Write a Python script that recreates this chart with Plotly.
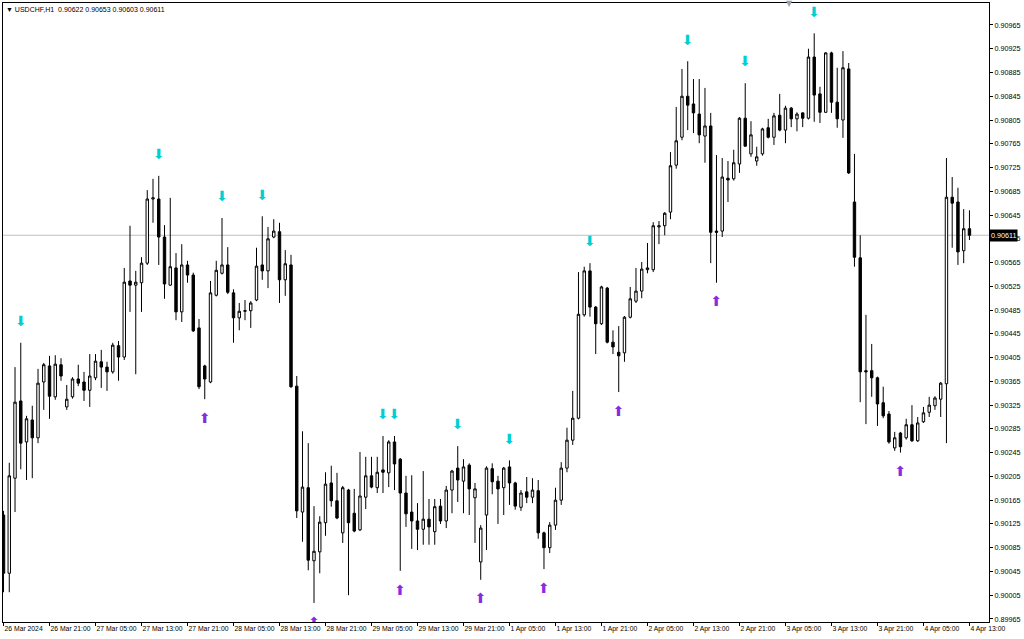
import plotly.graph_objects as go

symbol = "USDCHF,H1"

opens = [0.90140,0.90042,0.90202,0.90332,0.90263,0.90300,0.90270,0.90364,0.90391,0.90339,
0.90393,0.90322,0.90339,0.90369,0.90364,0.90350,0.90371,0.90398,0.90389,0.90381,
0.90425,0.90406,0.90534,0.90527,0.90531,0.90564,0.90672,0.90672,0.90608,0.90527,
0.90556,0.90482,0.90561,0.90544,0.90455,0.90391,0.90364,0.90510,0.90547,0.90561,
0.90514,0.90472,0.90483,0.90484,0.90502,0.90561,0.90551,0.90608,0.90617,0.90536,
0.90561,0.90357,0.90145,0.90186,0.90063,0.90078,0.90127,0.90194,0.90164,0.90110,
0.90182,0.90143,0.90115,0.90170,0.90206,0.90186,0.90216,0.90211,0.90263,0.90234,
0.90177,0.90145,0.90130,0.90116,0.90133,0.90112,0.90155,0.90130,0.90182,0.90219,
0.90197,0.90224,0.90169,0.90061,0.90140,0.90218,0.90197,0.90186,0.90221,0.90194,
0.90153,0.90179,0.90170,0.90181,0.90110,0.90085,0.90123,0.90165,0.90219,0.90266,
0.90303,0.90477,0.90551,0.90490,0.90462,0.90522,0.90431,0.90414,0.90413,0.90473,
0.90500,0.90517,0.90553,0.90553,0.90625,0.90627,0.90650,0.90729,0.90776,0.90845,
0.90832,0.90815,0.90778,0.90795,0.90618,0.90618,0.90707,0.90706,0.90731,0.90808,
0.90748,0.90736,0.90748,0.90792,0.90776,0.90813,0.90788,0.90825,0.90807,0.90817,
0.90808,0.90911,0.90849,0.90818,0.90918,0.90835,0.90805,0.90891,0.90667,0.90573,
0.90383,0.90383,0.90371,0.90329,0.90310,0.90253,0.90278,0.90270,0.90292,0.90265,
0.90297,0.90313,0.90324,0.90335,0.90361,0.90675,0.90667,0.90585,0.90622]

highs = [0.90147,0.90228,0.90389,0.90430,0.90307,0.90324,0.90386,0.90396,0.90408,0.90409,
0.90404,0.90359,0.90372,0.90393,0.90381,0.90411,0.90411,0.90418,0.90398,0.90430,
0.90433,0.90556,0.90627,0.90551,0.90574,0.90687,0.90706,0.90711,0.90628,0.90674,
0.90581,0.90596,0.90568,0.90548,0.90470,0.90393,0.90534,0.90568,0.90640,0.90591,
0.90520,0.90497,0.90502,0.90500,0.90590,0.90643,0.90625,0.90638,0.90632,0.90586,
0.90578,0.90374,0.90281,0.90261,0.90155,0.90138,0.90212,0.90223,0.90211,0.90189,
0.90184,0.90184,0.90246,0.90238,0.90238,0.90238,0.90273,0.90266,0.90273,0.90236,
0.90206,0.90207,0.90160,0.90214,0.90167,0.90167,0.90167,0.90189,0.90216,0.90256,
0.90234,0.90227,0.90194,0.90123,0.90222,0.90227,0.90206,0.90221,0.90232,0.90196,
0.90182,0.90204,0.90202,0.90199,0.90112,0.90128,0.90186,0.90229,0.90287,0.90349,
0.90549,0.90558,0.90564,0.90492,0.90526,0.90524,0.90451,0.90458,0.90475,0.90524,
0.90556,0.90566,0.90598,0.90633,0.90635,0.90650,0.90751,0.90827,0.90891,0.90904,
0.90874,0.90874,0.90859,0.90817,0.90746,0.90741,0.90736,0.90755,0.90810,0.90867,
0.90803,0.90760,0.90792,0.90807,0.90817,0.90849,0.90829,0.90827,0.90818,0.90818,
0.90925,0.90951,0.90861,0.90919,0.90920,0.90893,0.90921,0.90901,0.90748,0.90611,
0.90477,0.90428,0.90373,0.90356,0.90315,0.90280,0.90280,0.90302,0.90325,0.90305,
0.90322,0.90339,0.90340,0.90364,0.90741,0.90709,0.90691,0.90655,0.90653]

lows = [0.90010,0.90010,0.90145,0.90217,0.90199,0.90202,0.90261,0.90317,0.90302,0.90334,
0.90366,0.90317,0.90336,0.90357,0.90332,0.90322,0.90367,0.90354,0.90349,0.90378,
0.90366,0.90401,0.90482,0.90377,0.90482,0.90561,0.90632,0.90561,0.90504,0.90526,
0.90468,0.90465,0.90531,0.90448,0.90352,0.90335,0.90362,0.90508,0.90545,0.90512,
0.90430,0.90451,0.90468,0.90455,0.90500,0.90536,0.90522,0.90606,0.90497,0.90509,
0.90354,0.90135,0.90095,0.90047,0.89992,0.90042,0.90105,0.90154,0.90133,0.90093,
0.90005,0.90111,0.90113,0.90150,0.90185,0.90177,0.90177,0.90187,0.90182,0.90046,
0.90120,0.90083,0.90081,0.90090,0.90090,0.90090,0.90125,0.90118,0.90143,0.90162,
0.90143,0.90140,0.90093,0.90031,0.90081,0.90175,0.90125,0.90140,0.90157,0.90149,
0.90147,0.90160,0.90160,0.90100,0.90049,0.90076,0.90115,0.90157,0.90212,0.90258,
0.90301,0.90474,0.90474,0.90411,0.90460,0.90429,0.90411,0.90347,0.90398,0.90471,
0.90497,0.90505,0.90547,0.90549,0.90596,0.90611,0.90638,0.90723,0.90771,0.90788,
0.90783,0.90766,0.90733,0.90564,0.90531,0.90608,0.90667,0.90703,0.90716,0.90760,
0.90743,0.90728,0.90745,0.90774,0.90763,0.90786,0.90766,0.90793,0.90786,0.90793,
0.90806,0.90802,0.90800,0.90817,0.90817,0.90792,0.90775,0.90714,0.90558,0.90330,
0.90293,0.90339,0.90290,0.90303,0.90260,0.90248,0.90245,0.90267,0.90263,0.90263,
0.90295,0.90305,0.90317,0.90305,0.90261,0.90590,0.90561,0.90564,0.90603]

closes = [0.90042,0.90206,0.90330,0.90261,0.90302,0.90270,0.90362,0.90393,0.90340,0.90394,
0.90374,0.90335,0.90369,0.90362,0.90350,0.90374,0.90399,0.90389,0.90381,0.90426,
0.90406,0.90532,0.90527,0.90532,0.90564,0.90672,0.90674,0.90608,0.90529,0.90558,
0.90482,0.90561,0.90544,0.90450,0.90356,0.90369,0.90514,0.90552,0.90561,0.90515,
0.90472,0.90483,0.90484,0.90497,0.90559,0.90551,0.90605,0.90618,0.90536,0.90563,
0.90356,0.90147,0.90187,0.90064,0.90079,0.90128,0.90192,0.90164,0.90135,0.90186,
0.90127,0.90113,0.90172,0.90206,0.90187,0.90212,0.90212,0.90263,0.90226,0.90177,
0.90142,0.90130,0.90116,0.90133,0.90120,0.90154,0.90130,0.90182,0.90214,0.90199,
0.90221,0.90184,0.90184,0.90118,0.90219,0.90196,0.90184,0.90219,0.90194,0.90155,
0.90177,0.90170,0.90182,0.90110,0.90085,0.90123,0.90165,0.90219,0.90266,0.90303,
0.90478,0.90551,0.90490,0.90462,0.90524,0.90431,0.90423,0.90408,0.90473,0.90504,
0.90517,0.90554,0.90556,0.90627,0.90627,0.90648,0.90728,0.90770,0.90845,0.90830,
0.90817,0.90780,0.90795,0.90616,0.90616,0.90709,0.90704,0.90733,0.90808,0.90761,
0.90780,0.90743,0.90790,0.90776,0.90812,0.90788,0.90825,0.90807,0.90815,0.90808,
0.90911,0.90847,0.90818,0.90918,0.90835,0.90807,0.90893,0.90716,0.90574,0.90381,
0.90381,0.90371,0.90327,0.90307,0.90263,0.90270,0.90255,0.90292,0.90265,0.90295,
0.90312,0.90325,0.90337,0.90362,0.90675,0.90665,0.90583,0.90622,0.90611]

# fractal signal bars
sell_signals = [3, 27, 38, 45, 66, 68, 79, 88, 102, 119, 129, 141]
buy_signals = [35, 54, 69, 83, 94, 107, 124, 156]

time_labels = ["26 Mar 2024", "26 Mar 21:00", "27 Mar 05:00", "27 Mar 13:00", "27 Mar 21:00",
               "28 Mar 05:00", "28 Mar 13:00", "28 Mar 21:00", "29 Mar 05:00", "29 Mar 13:00",
               "29 Mar 21:00", "1 Apr 05:00", "1 Apr 13:00", "1 Apr 21:00", "2 Apr 05:00",
               "2 Apr 13:00", "2 Apr 21:00", "3 Apr 05:00", "3 Apr 13:00", "3 Apr 21:00",
               "4 Apr 05:00", "4 Apr 13:00"]
label_step = 8

price_ticks = [round(0.89965 + 0.0004 * k, 5) for k in range(26)]

n = len(closes)
idx = list(range(n))
arrow_off = 0.00034

fig = go.Figure()
fig.add_trace(go.Candlestick(
    x=idx, open=opens, high=highs, low=lows, close=closes,
    increasing=dict(line=dict(color="black", width=1), fillcolor="white"),
    decreasing=dict(line=dict(color="black", width=1), fillcolor="black"),
    hoverinfo="skip", showlegend=False))

fig.add_trace(go.Scatter(
    x=sell_signals, y=[highs[i] + arrow_off for i in sell_signals],
    mode="text", text=["⬇"] * len(sell_signals),
    textfont=dict(family="DejaVu Sans", size=14, color="#00CED1"),
    textposition="middle center", showlegend=False, hoverinfo="skip"))
fig.add_trace(go.Scatter(
    x=buy_signals, y=[lows[i] - arrow_off for i in buy_signals],
    mode="text", text=["⬆"] * len(buy_signals),
    textfont=dict(family="DejaVu Sans", size=14, color="#8A2BE2"),
    textposition="middle center", showlegend=False, hoverinfo="skip"))

last = n - 1
fig.add_shape(type="line", xref="paper", x0=0, x1=1, yref="y",
              y0=closes[last], y1=closes[last], line=dict(color="#C0C0C0", width=1), layer="below")

fig.add_annotation(xref="paper", yref="y", x=1, y=closes[last], xanchor="left", yanchor="middle",
                   xshift=0, text=f"{closes[last]:.5f}", showarrow=False, bgcolor="black", borderpad=1,
                   font=dict(family="Liberation Sans", size=7.2, color="white"))

title = f"▼ {symbol}  {opens[last]:.5f} {highs[last]:.5f} {lows[last]:.5f} {closes[last]:.5f}"
fig.add_annotation(xref="paper", yref="paper", x=0, y=1, xanchor="left", yanchor="top",
                   xshift=1, yshift=-1, text=title, showarrow=False,
                   font=dict(family="Liberation Sans", size=7, color="black"))
fig.add_annotation(xref="paper", yref="paper", x=0.798, y=1, xanchor="center", yanchor="middle",
                   text="▼", showarrow=False, font=dict(family="DejaVu Sans", size=8, color="#A0A0A0"))

fig.update_layout(
    width=1024, height=639,
    margin=dict(l=3, r=35, t=3, b=17, autoexpand=False),
    paper_bgcolor="white", plot_bgcolor="white",
    boxgap=0.4,
    font=dict(family="Liberation Sans", color="black"),
    xaxis=dict(range=[-0.09, 171.4], rangeslider=dict(visible=False), showgrid=False, zeroline=False,
               automargin=False, tickangle=0,
               tickmode="array", tickvals=list(range(0, n, label_step)), ticktext=time_labels,
               ticks="outside", ticklen=3, tickcolor="black", ticklabelposition="outside right",
               tickfont=dict(size=6.8, color="black"), showline=True, linecolor="black",
               linewidth=1, mirror=True),
    yaxis=dict(range=[0.899599, 0.910020], side="right", showgrid=False, zeroline=False,
               automargin=False,
               tickmode="array", tickvals=price_ticks, tickformat=".5f",
               ticks="outside", ticklen=3, tickcolor="black",
               tickfont=dict(size=7.2, color="black"), showline=True, linecolor="black",
               linewidth=1, mirror=True),
)

fig.write_html("out.html", config={"displayModeBar": False},
               post_script="document.body.style.margin='0px';document.body.style.overflow='hidden';")
